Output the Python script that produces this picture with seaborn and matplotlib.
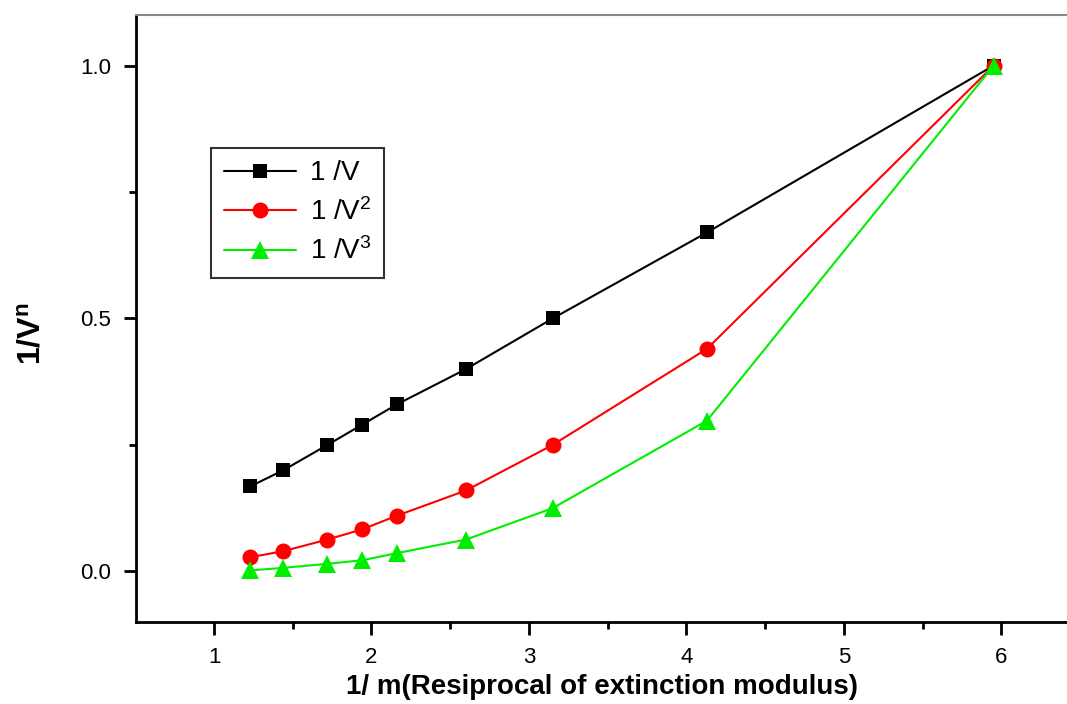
import matplotlib
matplotlib.use("Agg")
import matplotlib.pyplot as plt
from matplotlib.ticker import MultipleLocator
import seaborn as sns
import pandas as pd

x_vals = [1.23, 1.44, 1.72, 1.94, 2.16, 2.60, 3.15, 4.13, 5.95]
inv_v = [0.168, 0.200, 0.250, 0.290, 0.330, 0.400, 0.500, 0.670, 1.000]
inv_v2 = [0.028, 0.040, 0.063, 0.083, 0.110, 0.160, 0.250, 0.440, 1.000]
inv_v3 = [0.002, 0.007, 0.015, 0.022, 0.036, 0.063, 0.125, 0.298, 1.000]
labels = ["1 /V", "1 /V$^{2}$", "1 /V$^{3}$"]

sns.set_style("ticks")
plt.rcParams['font.family'] = ['Liberation Sans', 'DejaVu Sans']
plt.rcParams['mathtext.fontset'] = 'custom'
plt.rcParams['mathtext.rm'] = 'Liberation Sans'
plt.rcParams['mathtext.bf'] = 'Liberation Sans:bold'
plt.rcParams['mathtext.default'] = 'regular'
for k in ['text.color', 'axes.labelcolor', 'xtick.color', 'ytick.color', 'axes.edgecolor']:
    plt.rcParams[k] = 'black'

fig = plt.figure(figsize=(10.67, 7.04), dpi=100)
ax = fig.add_axes([0.1275, 0.1165, 0.8725, 0.8622])

df = pd.DataFrame({"x": x_vals, "a": inv_v, "b": inv_v2, "c": inv_v3})
styles = [("a", "black", "s", 10.5), ("b", "red", "o", 11.5), ("c", "#00ee00", "^", 12.5)]
for (col, color, marker, ms), lab in zip(styles, labels):
    sns.lineplot(data=df, x="x", y=col, ax=ax, color=color, marker=marker,
                 markersize=ms, markeredgewidth=0, linewidth=1.5, label=lab)

ax.set_xlim(0.505, 6.416)
ax.set_ylim(-0.1, 1.1)
ax.xaxis.set_major_locator(MultipleLocator(1))
ax.xaxis.set_minor_locator(MultipleLocator(0.5))
ax.yaxis.set_major_locator(MultipleLocator(0.5))
ax.yaxis.set_minor_locator(MultipleLocator(0.25))
ax.tick_params(axis='both', which='major', direction='out', length=9, width=2,
               labelsize=16, pad=9, colors='black')
ax.tick_params(axis='both', which='minor', direction='out', length=5, width=2)
ax.spines['left'].set_linewidth(2)
ax.spines['bottom'].set_linewidth(2)
ax.spines['top'].set_color('#888888')
ax.spines['top'].set_linewidth(1.5)
ax.spines['right'].set_visible(False)

ax.set_xlabel("1/ m(Resiprocal of extinction modulus)", fontsize=20,
              fontweight='bold', labelpad=4)
ax.set_ylabel("1/V$^{\\mathbf{n}}$", fontsize=23, fontweight='bold')
ax.yaxis.set_label_coords(-0.095, 0.475)

leg = ax.legend(loc='upper left', bbox_to_anchor=(0.081, 0.781), borderaxespad=0,
                fontsize=20, frameon=True, fancybox=False, handlelength=2.6,
                labelspacing=0.42, borderpad=0.45, handletextpad=0.5)
leg.get_frame().set_edgecolor('black')
leg.get_frame().set_linewidth(1.5)

fig.savefig("out.png", dpi=100)
